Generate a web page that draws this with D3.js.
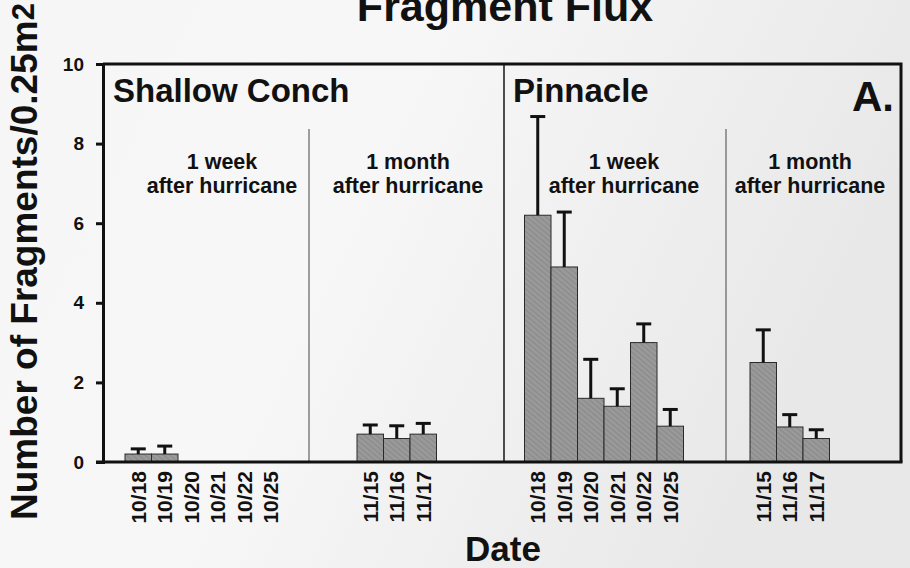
<!DOCTYPE html>
<html>
<head>
<meta charset="utf-8">
<script src="https://cdn.jsdelivr.net/npm/d3@7"></script>
<style>
  body { margin: 0; background: #f1f1f1; }
  text { font-family: "Liberation Sans", Arial, sans-serif; font-weight: bold; fill: #111; }
</style>
</head>
<body>
<div id="chart"></div>
<script>
// data
var sites = ["Shallow Conch", "Pinnacle"];
var periods = ["1 week", "1 month"];
var weekDates = ["10/18", "10/19", "10/20", "10/21", "10/22", "10/25"];
var monthDates = ["11/15", "11/16", "11/17"];

var conchWeekMean = [0.2, 0.2, 0, 0, 0, 0];
var conchWeekErr = [0.13, 0.2, 0, 0, 0, 0];
var conchMonthMean = [0.7, 0.59, 0.7];
var conchMonthErr = [0.23, 0.32, 0.27];
var pinWeekMean = [6.2, 4.9, 1.6, 1.4, 3.0, 0.9];
var pinWeekErr = [2.48, 1.38, 0.98, 0.44, 0.47, 0.42];
var pinMonthMean = [2.5, 0.88, 0.59];
var pinMonthErr = [0.82, 0.31, 0.22];
var yTicks = [0, 2, 4, 6, 8, 10];

var W = 910, H = 568;
var pLeft = 103, pRight = 901, pTop = 64, pBottom = 462;
var step = 26.5;

// group table, starts are layout
var groups = [
  {site: 0, period: 0, dates: weekDates, mean: conchWeekMean, err: conchWeekErr, start: 125, labelX: 222},
  {site: 0, period: 1, dates: monthDates, mean: conchMonthMean, err: conchMonthErr, start: 357, labelX: 408},
  {site: 1, period: 0, dates: weekDates, mean: pinWeekMean, err: pinWeekErr, start: 524.5, labelX: 624},
  {site: 1, period: 1, dates: monthDates, mean: pinMonthMean, err: pinMonthErr, start: 750, labelX: 810}
];

var svg = d3.select("#chart").append("svg")
    .attr("width", W)
    .attr("height", H);

var defs = svg.append("defs");
var bg = defs.append("linearGradient").attr("id", "bg")
    .attr("x1", 0).attr("y1", 0).attr("x2", 1).attr("y2", 0.3);
bg.append("stop").attr("offset", "0%").attr("stop-color", "#f6f6f6");
bg.append("stop").attr("offset", "45%").attr("stop-color", "#f7f7f7");
bg.append("stop").attr("offset", "100%").attr("stop-color", "#e8e8e8");

var pat = defs.append("pattern").attr("id", "hatch")
    .attr("patternUnits", "userSpaceOnUse")
    .attr("width", 4).attr("height", 4)
    .attr("patternTransform", "rotate(-50)");
pat.append("rect").attr("width", 4).attr("height", 4).attr("fill", "#999");
pat.append("line").attr("x1", 0).attr("y1", 0).attr("x2", 0).attr("y2", 4)
    .attr("stroke", "#828282").attr("stroke-width", 1.4);

svg.append("rect").attr("width", W).attr("height", H).attr("fill", "url(#bg)");

var y = d3.scaleLinear().domain([0, 10]).range([pBottom, pTop]);

//Title
svg.append("text")
    .attr("x", 505).attr("y", 21)
    .attr("text-anchor", "middle")
    .style("font-size", "43px")
    .text("Fragment Flux");

//Y label
var yl = svg.append("text")
    .attr("transform", "translate(37,520) rotate(-90)")
    .style("font-size", "37px")
    .text("Number of Fragments/0.25m");
yl.append("tspan").attr("dy", "-0.1em").style("font-size", "31px").text("2");

//X label
svg.append("text")
    .attr("x", 503).attr("y", 561)
    .attr("text-anchor", "middle")
    .style("font-size", "35px")
    .text("Date");

//sub dividers
[309, 726].forEach(function(xp){
  svg.append("line")
    .attr("x1", xp).attr("x2", xp)
    .attr("y1", 129).attr("y2", pBottom)
    .attr("stroke", "#444").attr("stroke-width", 1);
});
//site divider
svg.append("line")
    .attr("x1", 504).attr("x2", 504)
    .attr("y1", pTop).attr("y2", pBottom)
    .attr("stroke", "#222").attr("stroke-width", 1.6);

//bars
groups.forEach(function(g){
  var x = d3.scaleBand()
      .domain(g.dates)
      .range([g.start, g.start + g.dates.length * step])
      .padding(0);

  var rows = g.dates.map(function(d, i){ return {date: d, mean: g.mean[i], err: g.err[i]}; });
  var gg = svg.append("g");

  gg.selectAll("rect.bar").data(rows.filter(function(r){ return r.mean > 0; }))
    .enter().append("rect")
      .attr("class", "bar")
      .attr("x", function(r){ return x(r.date); })
      .attr("y", function(r){ return y(r.mean); })
      .attr("width", x.bandwidth())
      .attr("height", function(r){ return y(0) - y(r.mean); })
      .attr("fill", "url(#hatch)")
      .attr("stroke", "#2a2a2a")
      .attr("stroke-width", 1);

  var eb = gg.selectAll("g.err").data(rows.filter(function(r){ return r.mean > 0; }))
    .enter().append("g").attr("class", "err");
  eb.append("line")
      .attr("x1", function(r){ return x(r.date) + x.bandwidth() / 2; })
      .attr("x2", function(r){ return x(r.date) + x.bandwidth() / 2; })
      .attr("y1", function(r){ return y(r.mean); })
      .attr("y2", function(r){ return y(r.mean + r.err); })
      .attr("stroke", "#111").attr("stroke-width", 3);
  eb.append("line")
      .attr("x1", function(r){ return x(r.date) + x.bandwidth() / 2 - 7.5; })
      .attr("x2", function(r){ return x(r.date) + x.bandwidth() / 2 + 7.5; })
      .attr("y1", function(r){ return y(r.mean + r.err); })
      .attr("y2", function(r){ return y(r.mean + r.err); })
      .attr("stroke", "#111").attr("stroke-width", 3);

  //date labels
  gg.selectAll("text.date").data(g.dates)
    .enter().append("text")
      .attr("class", "date")
      .attr("transform", function(d){ return "translate(" + (x(d) + x.bandwidth() / 2) + ",471) rotate(-90)"; })
      .attr("dy", "0.36em")
      .attr("text-anchor", "end")
      .style("font-size", "21px")
      .text(function(d){ return d; });

  //period labels
  gg.append("text")
      .attr("x", g.labelX).attr("y", 169)
      .attr("text-anchor", "middle")
      .style("font-size", "21.5px")
      .text(periods[g.period]);
  gg.append("text")
      .attr("x", g.labelX).attr("y", 193)
      .attr("text-anchor", "middle")
      .style("font-size", "21.5px")
      .text("after hurricane");
});

//site labels
svg.selectAll("text.site").data(sites)
  .enter().append("text")
    .attr("class", "site")
    .attr("x", function(d, i){ return i == 0 ? 113 : 513; })
    .attr("y", 102)
    .style("font-size", "33px")
    .text(function(d){ return d; });

svg.append("text")
    .attr("x", 894).attr("y", 111)
    .attr("text-anchor", "end")
    .style("font-size", "42px")
    .text("A.");

//frame
svg.append("path")
    .attr("d", "M" + pLeft + "," + pTop + "H" + pRight + "V" + pBottom)
    .attr("fill", "none")
    .attr("stroke", "#111").attr("stroke-width", 3);
svg.append("line")
    .attr("x1", 96).attr("x2", pRight + 1.5)
    .attr("y1", pBottom).attr("y2", pBottom)
    .attr("stroke", "#111").attr("stroke-width", 3);

//y axis
var yAxis = svg.append("g")
    .attr("transform", "translate(" + pLeft + ",0)")
    .call(d3.axisLeft(y).tickValues(yTicks).tickSize(7).tickPadding(12));
yAxis.select(".domain").attr("stroke", "#111").attr("stroke-width", 3);
yAxis.selectAll(".tick line").attr("stroke", "#111").attr("stroke-width", 3);
yAxis.selectAll(".tick text")
    .style("font-size", "19px")
    .style("font-family", "'Liberation Sans', Arial, sans-serif")
    .style("font-weight", "bold")
    .attr("fill", "#111");
</script>
</body>
</html>
